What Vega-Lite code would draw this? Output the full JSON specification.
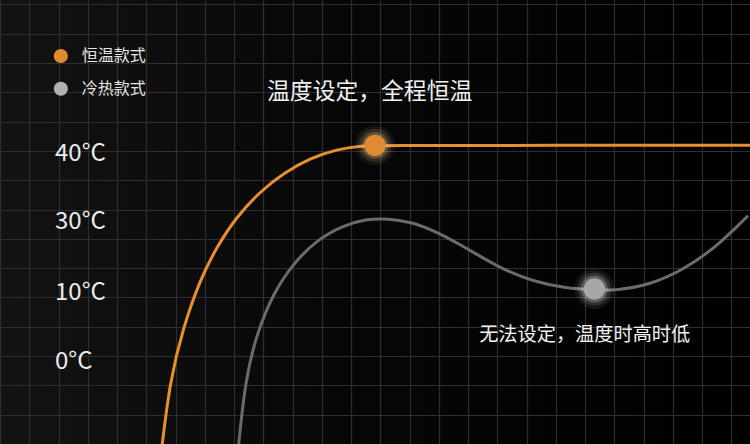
{
  "$schema": "https://vega.github.io/schema/vega-lite/v6.json",
  "description": "恒温款式 vs 冷热款式 temperature curves",
  "width": 750,
  "height": 444,
  "autosize": {"type": "fit", "contains": "padding"},
  "padding": 0,
  "background": "#000000",
  "datasets": {
    "curves": [
      {"series": "恒温款式", "x": 5.5, "y": -0.4},
      {"series": "恒温款式", "x": 5.81, "y": 2.18},
      {"series": "恒温款式", "x": 6.27, "y": 4.0},
      {"series": "恒温款式", "x": 6.84, "y": 5.6},
      {"series": "恒温款式", "x": 7.41, "y": 6.73},
      {"series": "恒温款式", "x": 8.09, "y": 7.76},
      {"series": "恒温款式", "x": 8.89, "y": 8.61},
      {"series": "恒温款式", "x": 9.69, "y": 9.24},
      {"series": "恒温款式", "x": 10.6, "y": 9.75},
      {"series": "恒温款式", "x": 11.51, "y": 10.06},
      {"series": "恒温款式", "x": 12.42, "y": 10.18},
      {"series": "恒温款式", "x": 12.82, "y": 10.19},
      {"series": "恒温款式", "x": 19.0, "y": 10.19},
      {"series": "恒温款式", "x": 25.7, "y": 10.19},
      {"series": "冷热款式", "x": 8.12, "y": -0.4},
      {"series": "冷热款式", "x": 8.38, "y": 2.18},
      {"series": "冷热款式", "x": 8.78, "y": 3.78},
      {"series": "冷热款式", "x": 9.34, "y": 5.14},
      {"series": "冷热款式", "x": 10.03, "y": 6.17},
      {"series": "冷热款式", "x": 10.83, "y": 6.96},
      {"series": "冷热款式", "x": 11.74, "y": 7.47},
      {"series": "冷热款式", "x": 12.54, "y": 7.67},
      {"series": "冷热款式", "x": 13.1, "y": 7.7},
      {"series": "冷热款式", "x": 14.02, "y": 7.59},
      {"series": "冷热款式", "x": 14.81, "y": 7.3},
      {"series": "冷热款式", "x": 15.96, "y": 6.68},
      {"series": "冷热款式", "x": 17.09, "y": 6.0},
      {"series": "冷热款式", "x": 18.23, "y": 5.54},
      {"series": "冷热款式", "x": 19.37, "y": 5.31},
      {"series": "冷热款式", "x": 20.32, "y": 5.26},
      {"series": "冷热款式", "x": 21.08, "y": 5.24},
      {"series": "冷热款式", "x": 22.22, "y": 5.43},
      {"series": "冷热款式", "x": 23.36, "y": 5.94},
      {"series": "冷热款式", "x": 24.5, "y": 6.73},
      {"series": "冷热款式", "x": 25.54, "y": 7.76}
    ],
    "dots": [
      {"series": "恒温款式", "x": 12.82, "y": 10.19},
      {"series": "冷热款式", "x": 20.32, "y": 5.29}
    ],
    "legend": [
      {"series": "恒温款式", "x": 2.08, "y": 13.24},
      {"series": "冷热款式", "x": 2.08, "y": 12.12}
    ],
    "ylabels": [
      {"label": "40°C", "x": 1.88, "y": 9.9},
      {"label": "30°C", "x": 1.88, "y": 7.58},
      {"label": "10°C", "x": 1.88, "y": 5.15},
      {"label": "0°C", "x": 1.88, "y": 2.8}
    ],
    "notes": [
      {"text": "温度设定，全程恒温", "x": 9.13, "y": 12.01, "size": 22.8},
      {"text": "无法设定，温度时高时低", "x": 16.38, "y": 3.72, "size": 19.2}
    ]
  },
  "encoding": {
    "x": {
      "field": "x",
      "type": "quantitative",
      "scale": {"domain": [0, 25.64], "nice": false, "zero": false},
      "axis": {"values": [0, 1, 2, 3, 4, 5, 6, 7, 8, 9, 10, 11, 12, 13, 14, 15, 16, 17, 18, 19, 20, 21, 22, 23, 24, 25]}
    },
    "y": {
      "field": "y",
      "type": "quantitative",
      "scale": {"domain": [0, 15.15], "nice": false, "zero": false},
      "axis": {"values": [0, 1, 2, 3, 4, 5, 6, 7, 8, 9, 10, 11, 12, 13, 14, 15]}
    }
  },
  "layer": [
    {
      "data": {"name": "curves"},
      "mark": {"type": "line", "interpolate": "basis", "strokeWidth": 3, "strokeCap": "round", "clip": true},
      "encoding": {
        "color": {
          "field": "series",
          "type": "nominal",
          "scale": {"domain": ["恒温款式", "冷热款式"], "range": ["#e8902c", "#6b6b6b"]},
          "legend": null
        },
        "detail": {"field": "series"}
      }
    },
    {
      "data": {"name": "dots"},
      "mark": {"type": "circle", "size": 1600, "opacity": 0.07},
      "encoding": {
        "color": {"condition": {"test": "datum.series == '恒温款式'", "value": "#f7d9a0"}, "value": "#ffffff"}
      }
    },
    {
      "data": {"name": "dots"},
      "mark": {"type": "circle", "size": 1100, "opacity": 0.12},
      "encoding": {
        "color": {"condition": {"test": "datum.series == '恒温款式'", "value": "#f7d9a0"}, "value": "#ffffff"}
      }
    },
    {
      "data": {"name": "dots"},
      "mark": {"type": "circle", "size": 720, "opacity": 0.22},
      "encoding": {
        "color": {"condition": {"test": "datum.series == '恒温款式'", "value": "#f7d9a0"}, "value": "#ffffff"}
      }
    },
    {
      "data": {"name": "dots"},
      "mark": {"type": "circle", "size": 460, "opacity": 1},
      "encoding": {
        "color": {
          "field": "series",
          "type": "nominal",
          "scale": {"domain": ["恒温款式", "冷热款式"], "range": ["#e08b30", "#a9a7a5"]},
          "legend": null
        }
      }
    },
    {
      "data": {"name": "legend"},
      "mark": {"type": "circle", "size": 200, "opacity": 1},
      "encoding": {
        "color": {"condition": {"test": "datum.series == '恒温款式'", "value": "#e08b30"}, "value": "#b0b0b0"}
      }
    },
    {
      "data": {"name": "legend"},
      "mark": {"type": "text", "align": "left", "baseline": "middle", "dx": 21, "fontSize": 16, "font": "Noto Sans CJK SC", "color": "#e6e6e6"},
      "encoding": {"text": {"field": "series"}}
    },
    {
      "data": {"name": "ylabels"},
      "mark": {"type": "text", "align": "left", "baseline": "middle", "fontSize": 24, "font": "Noto Sans CJK SC", "color": "#ececec"},
      "encoding": {"text": {"field": "label"}}
    },
    {
      "data": {"name": "notes"},
      "mark": {"type": "text", "align": "left", "baseline": "middle", "font": "Noto Sans CJK SC", "color": "#f2f2f2"},
      "encoding": {
        "text": {"field": "text"},
        "size": {"field": "size", "type": "quantitative", "scale": null}
      }
    }
  ],
  "resolve": {"scale": {"color": "independent"}},
  "config": {
    "view": {"stroke": null, "fill": {"gradient": "linear", "x1": 0, "y1": 0, "x2": 1, "y2": 0, "stops": [{"offset": 0, "color": "#131313"}, {"offset": 0.45, "color": "#070707"}, {"offset": 1, "color": "#000000"}]}},
    "axis": {
      "grid": true,
      "gridColor": "#2e2e2e",
      "gridWidth": 1.2,
      "labels": false,
      "ticks": false,
      "domain": false,
      "title": null
    }
  }
}
